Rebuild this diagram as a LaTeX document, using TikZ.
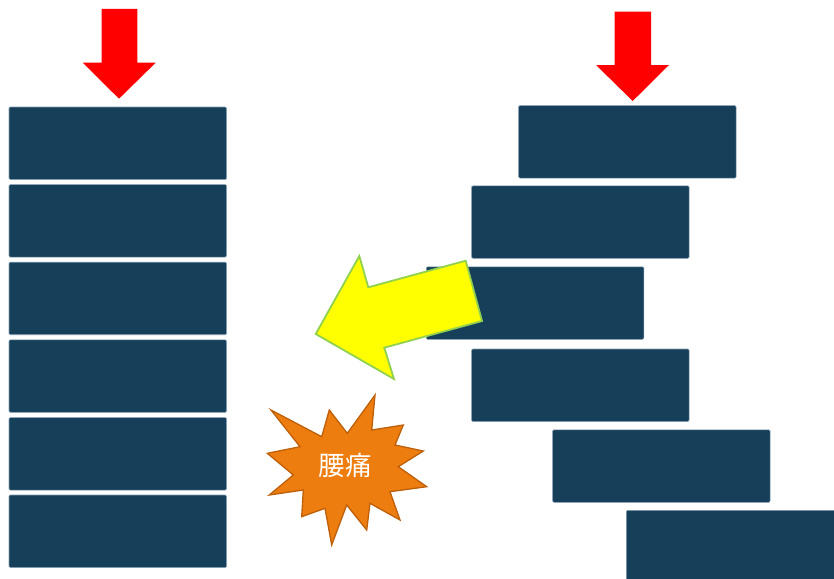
\documentclass[tikz,border=0pt]{standalone}
\usepackage{fontspec}
\newfontfamily\cjk{Noto Sans CJK JP}
\definecolor{blockblue}{RGB}{22,64,90}
\definecolor{blockedge}{RGB}{130,155,175}
\definecolor{arrowyellow}{RGB}{255,255,0}
\definecolor{arrowgreen}{RGB}{146,208,80}
\definecolor{burst}{RGB}{237,125,15}
\definecolor{burstedge}{RGB}{190,95,10}
\tikzset{
  blockbox/.style={draw=blockedge, line width=0.6pt, fill=blockblue, rounded corners=1.2pt,
    minimum width=217.5pt, minimum height=72.5pt, inner sep=0pt, anchor=north west},
  redarrow/.style={fill=red, draw=none},
}
\begin{document}
\begin{tikzpicture}[x=1pt,y=-1pt]
\useasboundingbox (0,0) rectangle (834,578);
% left red arrow
\fill[redarrow] (101.7,9) -- (137.3,9) -- (137.3,62.7) -- (155.7,62.7) -- (119,98.7) -- (82.7,62.7) -- (101.7,62.7) -- cycle;
% right red arrow
\fill[redarrow] (614.7,11.7) -- (651,11.7) -- (651,65) -- (669,65) -- (632.7,101) -- (596,65) -- (614.7,65) -- cycle;
% left stack
\node[blockbox] (l1) at (8.7,106.7) {};
\node[blockbox] (l2) at (8.7,184.3) {};
\node[blockbox] (l3) at (8.7,261.9) {};
\node[blockbox] (l4) at (8.7,339.5) {};
\node[blockbox] (l5) at (8.7,417.3) {};
\node[blockbox] (l6) at (8.7,494.7) {};
% right stack
\node[blockbox] (r1) at (518.3,105.3) {};
\node[blockbox] (r2) at (471.3,185.5) {};
\node[blockbox] (r3) at (426,266.5) {};
\node[blockbox] (r4) at (471.3,348.7) {};
\node[blockbox] (r5) at (552.3,429.5) {};
\node[blockbox] (r6) at (626,510) {};
% yellow arrow
\filldraw[fill=arrowyellow, draw=arrowgreen, line width=1.8pt, line join=miter]
  (315.7,334) -- (359.3,256) -- (368.3,287.3) -- (465.7,260.7) -- (482,321) -- (384.3,347.7) -- (394,379) -- cycle;
% starburst
\filldraw[fill=burst, draw=burstedge, line width=1.3pt, line join=miter]
  (271,410) -- (321.7,436.7) -- (329.3,410) -- (347.3,433.3) -- (375,395) -- (371.7,430)
  -- (403.3,425) -- (395,445) -- (423.3,451) -- (398.3,466.7) -- (426.7,486.7) -- (390,491.7)
  -- (400,520) -- (370,503.3) -- (366.7,530) -- (346.7,505) -- (331.7,545) -- (325,508.3)
  -- (301.7,516.7) -- (303.3,490) -- (269.3,495) -- (293.3,475) -- (267.3,453.3) -- (300,446.7) -- cycle;
\node[text=white, font=\cjk\fontsize{26.5}{30}\selectfont, inner sep=0pt] (pain) at (345.3,465) {腰痛};
\end{tikzpicture}
\end{document}
